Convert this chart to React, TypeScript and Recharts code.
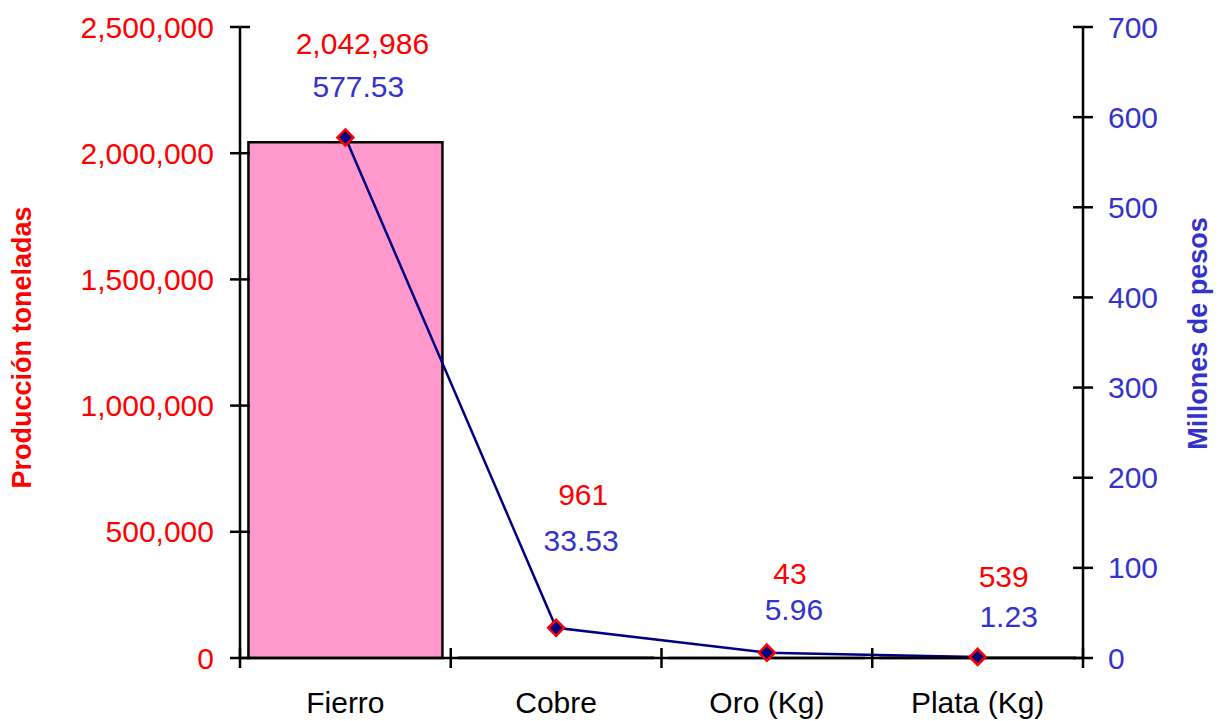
import React from 'react';
import { ComposedChart, Bar, Line, XAxis, YAxis, LabelList } from 'recharts';

const categories = ['Fierro', 'Cobre', 'Oro (Kg)', 'Plata (Kg)'];
const produccion = [2042986, 961, 43, 539];
const millones = [577.53, 33.53, 5.96, 1.23];
const leftTicks = [0, 500000, 1000000, 1500000, 2000000, 2500000];
const rightTicks = [0, 100, 200, 300, 400, 500, 600, 700];

// the data labels were dragged by hand in the original, so nudge them
const prodLabelDx = [17, 27, 23, 26];
const prodLabelDy = [-99, -163, -84, -81];
const pesosLabelDx = [13, 25, 27, 31];
const pesosLabelDy = [-51, -87, -43, -40];

const W = 1219;
const H = 721;
const PLOT_L = 240;
const PLOT_R = 1083;
const PLOT_T = 27;
const PLOT_B = 658;
const BAND = (PLOT_R - PLOT_L) / categories.length;

const FONT = 'Liberation Sans, Arial, sans-serif';
const FS = 30;
const RED = '#FF0000';
const BLUE = '#3333CC';
const NAVY = '#000080';

const data = categories.map((name, i) => ({
  name,
  prod: produccion[i],
  pesos: millones[i],
}));

const fmt = (v: number) => v.toLocaleString('en-US');

const LeftTick = (p: any) => (
  <g>
    <line x1={PLOT_L - 10} x2={PLOT_L + 10} y1={p.y} y2={p.y} stroke="#000" strokeWidth={2.5} />
    <text x={PLOT_L - 26} y={p.y} dy="0.35em" textAnchor="end" fill={RED} fontSize={FS} fontFamily={FONT}>
      {fmt(p.payload.value)}
    </text>
  </g>
);

const RightTick = (p: any) => (
  <g>
    <line x1={PLOT_R - 10} x2={PLOT_R + 10} y1={p.y} y2={p.y} stroke="#000" strokeWidth={2.5} />
    <text x={PLOT_R + 25} y={p.y} dy="0.35em" textAnchor="start" fill={BLUE} fontSize={FS} fontFamily={FONT}>
      {p.payload.value}
    </text>
  </g>
);

const BottomTick = (p: any) => {
  const left = p.x - BAND / 2;
  const right = p.x + BAND / 2;
  return (
    <g>
      <line x1={left} x2={left} y1={PLOT_B - 10} y2={PLOT_B + 10} stroke="#000" strokeWidth={2.5} />
      {p.index === categories.length - 1 && (
        <line x1={right} x2={right} y1={PLOT_B - 10} y2={PLOT_B + 10} stroke="#000" strokeWidth={2.5} />
      )}
      <text x={p.x} y={PLOT_B + 55} textAnchor="middle" fill="#000" fontSize={FS} fontFamily={FONT}>
        {p.payload.value}
      </text>
    </g>
  );
};

const ProdLabel = (p: any) => {
  const vb = p.viewBox || p;
  const i = p.index;
  const cx = vb.x + (vb.width || 0) / 2;
  return (
    <text x={cx + prodLabelDx[i]} y={vb.y + prodLabelDy[i]} dy="0.35em" textAnchor="middle" fill={RED} fontSize={FS} fontFamily={FONT}>
      {fmt(produccion[i])}
    </text>
  );
};

const PesosLabel = (p: any) => {
  const vb = p.viewBox || p;
  const i = p.index;
  return (
    <text x={vb.x + pesosLabelDx[i]} y={vb.y + pesosLabelDy[i]} dy="0.35em" textAnchor="middle" fill={BLUE} fontSize={FS} fontFamily={FONT}>
      {millones[i].toFixed(2)}
    </text>
  );
};

const Diamond = (p: any) => {
  const { cx, cy, index } = p;
  const r = 8;
  return (
    <path
      key={`d-${index}`}
      d={`M${cx},${cy - r} L${cx + r},${cy} L${cx},${cy + r} L${cx - r},${cy} Z`}
      fill={NAVY}
      stroke={RED}
      strokeWidth={2.5}
    />
  );
};

const LeftTitle = () => (
  <text
    x={22}
    y={(PLOT_T + PLOT_B) / 2 + 5}
    transform={`rotate(-90 22 ${(PLOT_T + PLOT_B) / 2 + 5})`}
    textAnchor="middle"
    dominantBaseline="central"
    fill={RED}
    fontSize={27}
    fontWeight="bold"
    fontFamily={FONT}
  >
    Producción toneladas
  </text>
);

const RightTitle = () => (
  <text
    x={1198}
    y={(PLOT_T + PLOT_B) / 2 - 9}
    transform={`rotate(-90 1198 ${(PLOT_T + PLOT_B) / 2 - 9})`}
    textAnchor="middle"
    dominantBaseline="central"
    fill={BLUE}
    fontSize={27}
    fontWeight="bold"
    fontFamily={FONT}
  >
    Millones de pesos
  </text>
);

export default function App() {
  return (
    <div style={{ position: 'absolute', left: 0, top: 0, background: '#fff' }}>
      <ComposedChart
        width={W}
        height={H}
        data={data}
        margin={{ top: PLOT_T, right: 10, bottom: 3, left: 10 }}
        barCategoryGap="4%"
      >
        <XAxis
          dataKey="name"
          height={H - PLOT_B - 3}
          axisLine={{ stroke: '#000', strokeWidth: 2.5 }}
          tickLine={false}
          tick={<BottomTick />}
          interval={0}
        />
        <YAxis
          yAxisId="left"
          orientation="left"
          width={PLOT_L - 10}
          domain={[0, 2500000]}
          ticks={leftTicks}
          axisLine={{ stroke: '#000', strokeWidth: 2.5 }}
          tickLine={false}
          tick={<LeftTick />}
          label={<LeftTitle />}
        />
        <YAxis
          yAxisId="right"
          orientation="right"
          width={W - PLOT_R - 10}
          domain={[0, 700]}
          ticks={rightTicks}
          axisLine={{ stroke: '#000', strokeWidth: 2.5 }}
          tickLine={false}
          tick={<RightTick />}
          label={<RightTitle />}
        />
        <Bar yAxisId="left" dataKey="prod" fill="#FF99CC" stroke="#000" strokeWidth={2.5} isAnimationActive={false}>
          <LabelList dataKey="prod" content={<ProdLabel />} />
        </Bar>
        <Line
          yAxisId="right"
          dataKey="pesos"
          type="linear"
          stroke={NAVY}
          strokeWidth={2.5}
          dot={(p: any) => <Diamond {...p} />}
          activeDot={false}
          isAnimationActive={false}
        >
          <LabelList dataKey="pesos" content={<PesosLabel />} />
        </Line>
      </ComposedChart>
    </div>
  );
}
